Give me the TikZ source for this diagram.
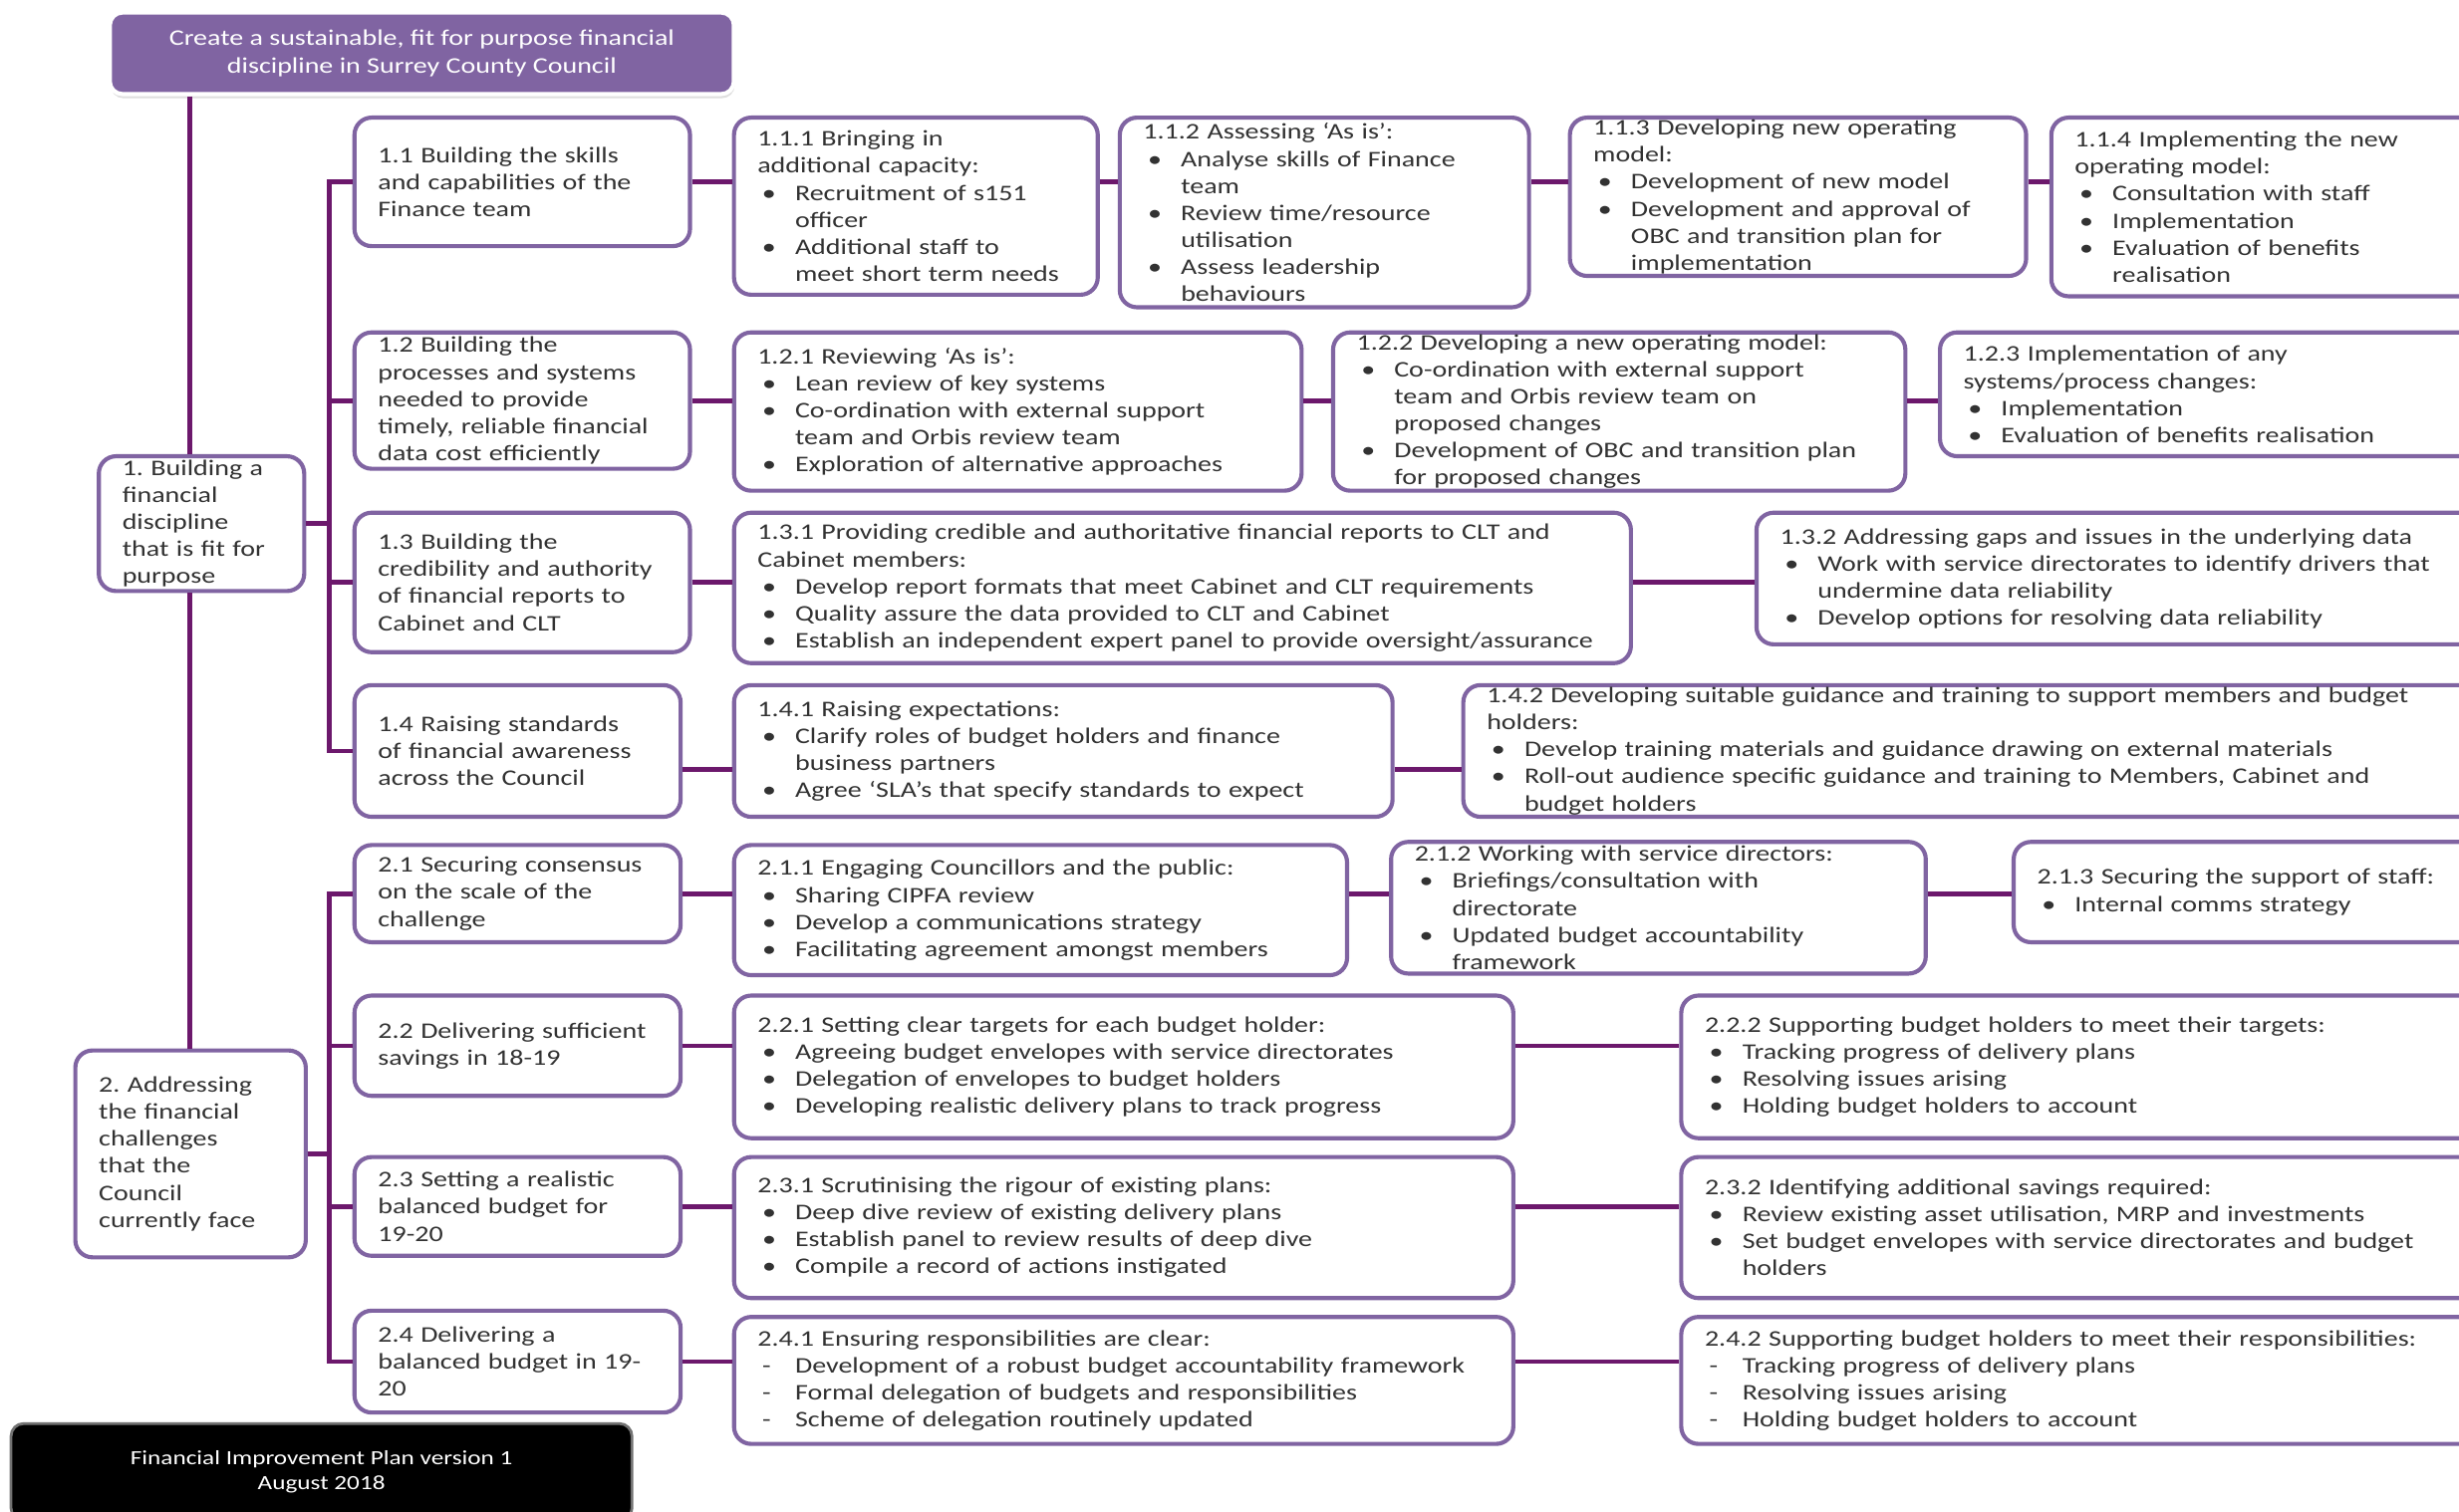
\documentclass[tikz,border=0pt]{standalone}
\usepackage{fontspec}
\setmainfont{Carlito}[FakeStretch=1.25]
\usepackage{xcolor}
\usepackage{tikz}
\usetikzlibrary{
    shadows
}
\definecolor{boxpurple}{RGB}{128,100,162}
\definecolor{linkpurple}{RGB}{108,24,108}
\definecolor{boxtext}{RGB}{50,50,50}
\newcommand{\bul}{\makebox[0.48cm][l]{\hspace{0.06cm}\textbullet}}
\newcommand{\dsh}{\makebox[0.48cm][l]{\hspace{0.06cm}-}}
\newcommand{\hng}{\hspace*{0.48cm}}
\frenchspacing

\begin{document}
\begin{tikzpicture}[x=0.02cm,y=-0.02cm]
    \tikzstyle{box}=[draw=boxpurple, line width=1.5pt, rounded corners=0.22cm, fill=white, text=boxtext, align=left, inner xsep=0.3cm, inner ysep=0pt, font=\fontsize{8.1}{9.8}\selectfont]
    \tikzstyle{title}=[fill=boxpurple, draw=white, line width=1.5pt, rounded corners=0.16cm, text=white, align=center, minimum width=7.96cm, minimum height=1.04cm, drop shadow={shadow xshift=0.3pt, shadow yshift=-1.5pt, fill=black!25}, font=\fontsize{8.1}{9.8}\selectfont]
    \tikzstyle{footer}=[fill=black, draw=black!55, line width=1pt, rounded corners=0.16cm, text=white, align=center, minimum width=7.92cm, minimum height=1.24cm, font=\fontsize{7.3}{9.2}\selectfont]
    \tikzstyle{link}=[draw=linkpurple, line width=1.7pt]
    \useasboundingbox (0,0) rectangle (1568,964);
    \clip (0,0) rectangle (1568,964);
    \coordinate (trunk) at (121,0);
    \coordinate (bus) at (210,0);
    \coordinate (r14) at (0,491);

    \node[title] (title) at (269,34) {Create a sustainable, fit for purpose financial\\discipline in Surrey County Council};
    \node[box, minimum width=2.62cm, minimum height=1.72cm, text width=2.02cm] (b1) at (128.5,334) {1. Building a\\financial\\discipline\\that is fit for\\purpose};
    \node[box, minimum width=2.94cm, minimum height=2.64cm, text width=2.34cm] (b2) at (121.5,736) {2. Addressing\\the financial\\challenges\\that the\\Council\\currently face};

    \node[box, minimum width=4.28cm, minimum height=1.64cm, text width=3.68cm] (b11) at (333,116) {1.1 Building the skills\\and capabilities of the\\Finance team};
    \node[box, minimum width=4.28cm, minimum height=1.74cm, text width=3.68cm] (b12) at (333,255.5) {1.2 Building the\\processes and systems\\needed to provide\\timely, reliable financial\\data cost efficiently};
    \node[box, minimum width=4.28cm, minimum height=1.78cm, text width=3.68cm] (b13) at (333,371.5) {1.3 Building the\\credibility and authority\\of financial reports to\\Cabinet and CLT};
    \node[box, minimum width=4.16cm, minimum height=1.68cm, text width=3.56cm] (b14) at (330,479) {1.4 Raising standards\\of financial awareness\\across the Council};

    \node[box, minimum width=4.64cm, minimum height=2.26cm, text width=4.04cm] (b111) at (584,131.5) {1.1.1 Bringing in\\additional capacity:\\\bul Recruitment of s151\\\hng officer\\\bul Additional staff to\\\hng meet short term needs};
    \node[box, minimum width=5.22cm, minimum height=2.42cm, text width=4.62cm] (b112) at (844.5,135.5) {1.1.2 Assessing ‘As is’:\\\bul Analyse skills of Finance\\\hng team\\\bul Review time/resource\\\hng utilisation\\\bul Assess leadership\\\hng behaviours};
    \node[box, minimum width=5.82cm, minimum height=2.02cm, text width=5.22cm] (b113) at (1146.5,125.5) {1.1.3 Developing new operating\\model:\\\bul Development of new model\\\bul Development and approval of\\\hng OBC and transition plan for\\\hng implementation};
    \node[box, minimum width=5.44cm, minimum height=2.28cm, text width=4.84cm] (b114) at (1444,132) {1.1.4 Implementing the new\\operating model:\\\bul Consultation with staff\\\bul Implementation\\\bul Evaluation of benefits\\\hng realisation};

    \node[box, minimum width=7.24cm, minimum height=2.02cm, text width=6.64cm] (b121) at (649,262.5) {1.2.1 Reviewing ‘As is’:\\\bul Lean review of key systems\\\bul Co-ordination with external support\\\hng team and Orbis review team\\\bul Exploration of alternative approaches};
    \node[box, minimum width=7.30cm, minimum height=2.02cm, text width=6.70cm] (b122) at (1032.5,262.5) {1.2.2 Developing a new operating model:\\\bul Co-ordination with external support\\\hng team and Orbis review team on\\\hng proposed changes\\\bul Development of OBC and transition plan\\\hng for proposed changes};
    \node[box, minimum width=6.86cm, minimum height=1.58cm, text width=6.26cm] (b123) at (1408.5,251.5) {1.2.3 Implementation of any\\systems/process changes:\\\bul Implementation\\\bul Evaluation of benefits realisation};

    \node[box, minimum width=11.44cm, minimum height=1.92cm, text width=10.84cm] (b131) at (754,375) {1.3.1 Providing credible and authoritative financial reports to CLT and\\Cabinet members:\\\bul Develop report formats that meet Cabinet and CLT requirements\\\bul Quality assure the data provided to CLT and Cabinet\\\bul Establish an independent expert panel to provide oversight/assurance};
    \node[box, minimum width=9.20cm, minimum height=1.68cm, text width=8.60cm] (b132) at (1350,369) {1.3.2 Addressing gaps and issues in the underlying data\\\bul Work with service directorates to identify drivers that\\\hng undermine data reliability\\\bul Develop options for resolving data reliability};

    \node[box, minimum width=8.40cm, minimum height=1.68cm, text width=7.80cm] (b141) at (678,479) {1.4.1 Raising expectations:\\\bul Clarify roles of budget holders and finance\\\hng business partners\\\bul Agree ‘SLA’s that specify standards to expect};
    \node[box, minimum width=12.94cm, minimum height=1.68cm, text width=12.34cm] (b142) at (1256.5,479) {1.4.2 Developing suitable guidance and training to support members and budget\\holders:\\\bul Develop training materials and guidance drawing on external materials\\\bul Roll-out audience specific guidance and training to Members, Cabinet and\\\hng budget holders};

    \node[box, minimum width=4.16cm, minimum height=1.24cm, text width=3.56cm] (b21) at (330,570) {2.1 Securing consensus\\on the scale of the\\challenge};
    \node[box, minimum width=4.16cm, minimum height=1.28cm, text width=3.56cm] (b22) at (330,667) {2.2 Delivering sufficient\\savings in 18-19};
    \node[box, minimum width=4.16cm, minimum height=1.26cm, text width=3.56cm] (b23) at (330,769.5) {2.3 Setting a realistic\\balanced budget for\\19-20};
    \node[box, minimum width=4.16cm, minimum height=1.30cm, text width=3.56cm] (b24) at (330,868.5) {2.4 Delivering a\\balanced budget in 19-\\20};

    \node[box, minimum width=7.82cm, minimum height=1.66cm, text width=7.22cm] (b211) at (663.5,580.5) {2.1.1 Engaging Councillors and the public:\\\bul Sharing CIPFA review\\\bul Develop a communications strategy\\\bul Facilitating agreement amongst members};
    \node[box, minimum width=6.82cm, minimum height=1.68cm, text width=6.22cm] (b212) at (1057.5,579) {2.1.2 Working with service directors:\\\bul Briefings/consultation with\\\hng directorate\\\bul Updated budget accountability\\\hng framework};
    \node[box, minimum width=5.92cm, minimum height=1.28cm, text width=5.32cm] (b213) at (1432,569) {2.1.3 Securing the support of staff:\\\bul Internal comms strategy\\[0.3cm]};

    \node[box, minimum width=9.94cm, minimum height=1.82cm, text width=9.34cm] (b221) at (716.5,680.5) {2.2.1 Setting clear targets for each budget holder:\\\bul Agreeing budget envelopes with service directorates\\\bul Delegation of envelopes to budget holders\\\bul Developing realistic delivery plans to track progress};
    \node[box, minimum width=10.16cm, minimum height=1.82cm, text width=9.56cm] (b222) at (1326,680.5) {2.2.2 Supporting budget holders to meet their targets:\\\bul Tracking progress of delivery plans\\\bul Resolving issues arising\\\bul Holding budget holders to account};

    \node[box, minimum width=9.94cm, minimum height=1.80cm, text width=9.34cm] (b231) at (716.5,783) {2.3.1 Scrutinising the rigour of existing plans:\\\bul Deep dive review of existing delivery plans\\\bul Establish panel to review results of deep dive\\\bul Compile a record of actions instigated};
    \node[box, minimum width=10.16cm, minimum height=1.80cm, text width=9.56cm] (b232) at (1326,783) {2.3.2 Identifying additional savings required:\\\bul Review existing asset utilisation, MRP and investments\\\bul Set budget envelopes with service directorates and budget\\\hng holders};

    \node[box, minimum width=9.94cm, minimum height=1.62cm, text width=9.34cm] (b241) at (716.5,880.5) {2.4.1 Ensuring responsibilities are clear:\\\dsh Development of a robust budget accountability framework\\\dsh Formal delegation of budgets and responsibilities\\\dsh Scheme of delegation routinely updated};
    \node[box, minimum width=10.16cm, minimum height=1.62cm, text width=9.56cm] (b242) at (1326,880.5) {2.4.2 Supporting budget holders to meet their responsibilities:\\\dsh Tracking progress of delivery plans\\\dsh Resolving issues arising\\\dsh Holding budget holders to account};

    \node[footer] (note) at (205,939) {Financial Improvement Plan version 1\\August 2018};

    \draw[link] (title.south -| trunk) -- (b1.north -| trunk);
    \draw[link] (b1.south -| trunk) -- (b2.north -| trunk);
    \draw[link] (b1.east) -- (b1.east -| bus) |- (b11.west);
    \draw[link] (b1.east) -- (b1.east -| bus) |- (b12.west);
    \draw[link] (b1.east) -- (b1.east -| bus) |- (b13.west);
    \draw[link] (b1.east) -- (b1.east -| bus) |- (b14.west);
    \draw[link] (b2.east) -- (b2.east -| bus) |- (b21.west);
    \draw[link] (b2.east) -- (b2.east -| bus) |- (b22.west);
    \draw[link] (b2.east) -- (b2.east -| bus) |- (b23.west);
    \draw[link] (b2.east) -- (b2.east -| bus) |- (b24.west);

    \draw[link] (b11.east) -- (b111.west |- b11.east);
    \draw[link] (b111.east |- b11.east) -- (b112.west |- b11.east);
    \draw[link] (b112.east |- b11.east) -- (b113.west |- b11.east);
    \draw[link] (b113.east |- b11.east) -- (b114.west |- b11.east);
    \draw[link] (b12.east) -- (b121.west |- b12.east);
    \draw[link] (b121.east |- b12.east) -- (b122.west |- b12.east);
    \draw[link] (b122.east |- b12.east) -- (b123.west |- b12.east);
    \draw[link] (b13.east) -- (b131.west |- b13.east);
    \draw[link] (b131.east |- b13.east) -- (b132.west |- b13.east);
    \draw[link] (b14.east |- r14) -- (b141.west |- r14);
    \draw[link] (b141.east |- r14) -- (b142.west |- r14);

    \draw[link] (b21.east) -- (b211.west |- b21.east);
    \draw[link] (b211.east |- b21.east) -- (b212.west |- b21.east);
    \draw[link] (b212.east |- b21.east) -- (b213.west |- b21.east);
    \draw[link] (b22.east) -- (b221.west |- b22.east);
    \draw[link] (b221.east |- b22.east) -- (b222.west |- b22.east);
    \draw[link] (b23.east) -- (b231.west |- b23.east);
    \draw[link] (b231.east |- b23.east) -- (b232.west |- b23.east);
    \draw[link] (b24.east) -- (b241.west |- b24.east);
    \draw[link] (b241.east |- b24.east) -- (b242.west |- b24.east);
\end{tikzpicture}
\end{document}
